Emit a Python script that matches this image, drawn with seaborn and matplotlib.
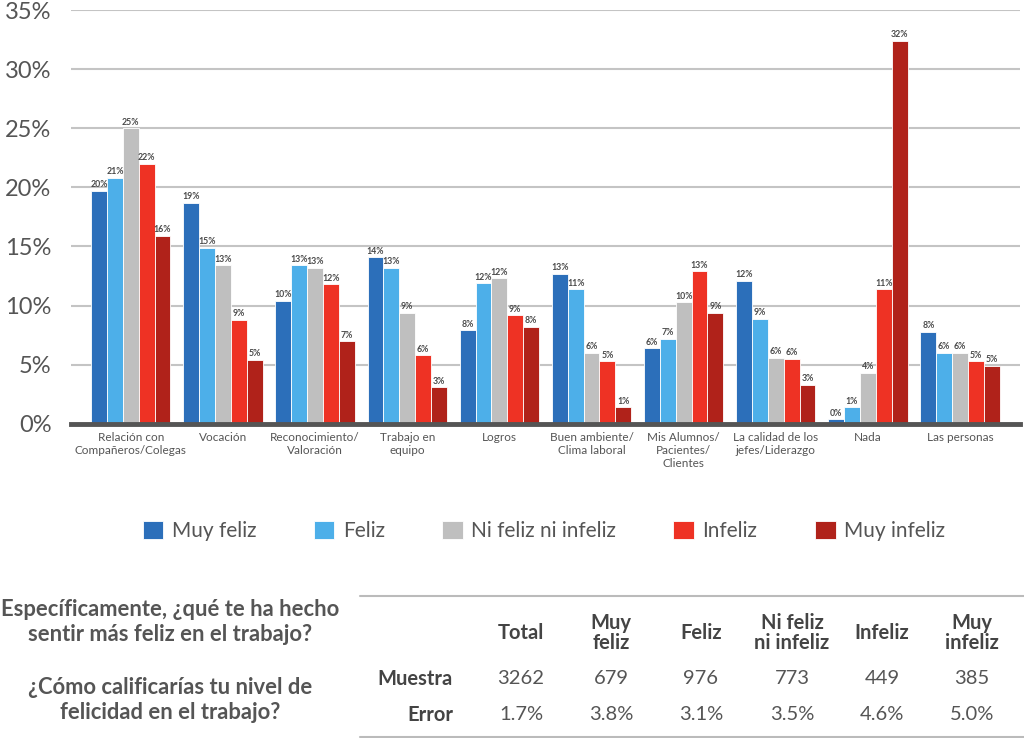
import pandas as pd
import matplotlib
matplotlib.use('Agg')
import matplotlib.pyplot as plt
from matplotlib.lines import Line2D
import seaborn as sns

# data
categorias = ['Relación con\nCompañeros/Colegas', 'Vocación', 'Reconocimiento/\nValoración',
              'Trabajo en\nequipo', 'Logros', 'Buen ambiente/\nClima laboral',
              'Mis Alumnos/\nPacientes/\nClientes', 'La calidad de los\njefes/Liderazgo',
              'Nada', 'Las personas']
niveles = ['Muy feliz', 'Feliz', 'Ni feliz ni infeliz', 'Infeliz', 'Muy infeliz']

muy_feliz = [19.7, 18.7, 10.4, 14.1, 7.9, 12.7, 6.4, 12.1, 0.4, 7.8]
feliz = [20.8, 14.9, 13.4, 13.2, 11.9, 11.4, 7.2, 8.9, 1.4, 6.0]
ni_feliz = [25.0, 13.4, 13.2, 9.4, 12.3, 6.0, 10.3, 5.6, 4.3, 6.0]
infeliz = [22.0, 8.8, 11.8, 5.8, 9.2, 5.3, 12.9, 5.5, 11.4, 5.3]
muy_infeliz = [15.9, 5.4, 7.0, 3.1, 8.2, 1.4, 9.4, 3.3, 32.4, 4.9]

colores = ['#2C6FBA', '#4DAFE9', '#BFBFBF', '#EE3224', '#B0221A']

# tabla de abajo
cols_tabla = ['Total', 'Muy\nfeliz', 'Feliz', 'Ni feliz\nni infeliz', 'Infeliz', 'Muy\ninfeliz']
muestra = ['3262', '679', '976', '773', '449', '385']
error = ['1.7%', '3.8%', '3.1%', '3.5%', '4.6%', '5.0%']
pregunta_1 = 'Específicamente, ¿qué te ha hecho\nsentir más feliz en el trabajo?'
pregunta_2 = '¿Cómo calificarías tu nivel de\nfelicidad en el trabajo?'

series = [muy_feliz, feliz, ni_feliz, infeliz, muy_infeliz]
rows = []
for nivel, vals in zip(niveles, series):
    for cat, v in zip(categorias, vals):
        rows.append({'categoria': cat, 'nivel': nivel, 'valor': v})
df = pd.DataFrame(rows)

sns.set_style('white')
plt.rcParams['font.family'] = ['Lato', 'DejaVu Sans']

gris = '#555555'

fig = plt.figure(figsize=(10.24, 7.38), dpi=100)
ax = fig.add_axes([0.0693, 0.4259, 0.9267, 0.5605])

sns.barplot(data=df, x='categoria', y='valor', hue='nivel', order=categorias,
            hue_order=niveles, palette=colores, saturation=1, width=0.86, ax=ax,
            edgecolor='white', linewidth=0.6, zorder=2)

for cont in ax.containers:
    ax.bar_label(cont, fmt='%.0f%%', fontsize=6.3, fontweight='bold', color='#4A4A4A', padding=1)

ax.set_ylim(0, 35)
ax.set_xlim(-0.65, 9.65)
ax.set_yticks(range(0, 36, 5))
ax.set_yticklabels([f'{v}%' for v in range(0, 36, 5)], fontsize=17, color=gris)
ax.tick_params(axis='y', length=0, pad=14)
ax.tick_params(axis='x', length=0, pad=6, labelsize=8.5, labelcolor=gris)
ax.set_xlabel('')
ax.set_ylabel('')
ax.grid(axis='y', color='#C4C4C4', linewidth=1.5, zorder=0)
ax.set_axisbelow(True)
for s in ['top', 'right', 'left']:
    ax.spines[s].set_visible(False)
ax.spines['bottom'].set_color('#555555')
ax.spines['bottom'].set_linewidth(3.5)
ax.spines['bottom'].set_zorder(3)

handles, labels = ax.get_legend_handles_labels()
ax.legend_.remove()
fig.legend(handles, labels, loc='center', bbox_to_anchor=(0.531, 0.2805), ncol=5,
           frameon=False, fontsize=15, handlelength=1.0, handleheight=1.0,
           handletextpad=0.4, columnspacing=2.75, labelcolor=gris)

# preguntas
fig.text(170 / 1024, 1 - 622 / 738, pregunta_1, ha='center', va='center', fontsize=15.8,
         fontweight='bold', color=gris, linespacing=1.25)
fig.text(170 / 1024, 1 - 700 / 738, pregunta_2, ha='center', va='center', fontsize=15.8,
         fontweight='bold', color=gris, linespacing=1.25)

# tabla
fig.add_artist(Line2D([360 / 1024, 1.0], [1 - 596 / 738] * 2, color='#BBBBBB', lw=1.5))
fig.add_artist(Line2D([360 / 1024, 1.0], [1 - 737 / 738] * 2, color='#BBBBBB', lw=1.5))
x_cols = [521, 611, 701, 792, 882, 972]
for xc, h, m, e in zip(x_cols, cols_tabla, muestra, error):
    fig.text(xc / 1024, 1 - 633 / 738, h, ha='center', va='center', fontsize=14.5,
             fontweight='bold', color='#444444', linespacing=0.95)
    fig.text(xc / 1024, 1 - 679 / 738, m, ha='center', va='center', fontsize=14.5, color=gris)
    fig.text(xc / 1024, 1 - 715 / 738, e, ha='center', va='center', fontsize=14.5, color=gris)
fig.text(453 / 1024, 1 - 679 / 738, 'Muestra', ha='right', va='center', fontsize=14.5,
         fontweight='bold', color='#444444')
fig.text(453 / 1024, 1 - 715 / 738, 'Error', ha='right', va='center', fontsize=14.5,
         fontweight='bold', color='#444444')

fig.savefig('out.png', dpi=100)
